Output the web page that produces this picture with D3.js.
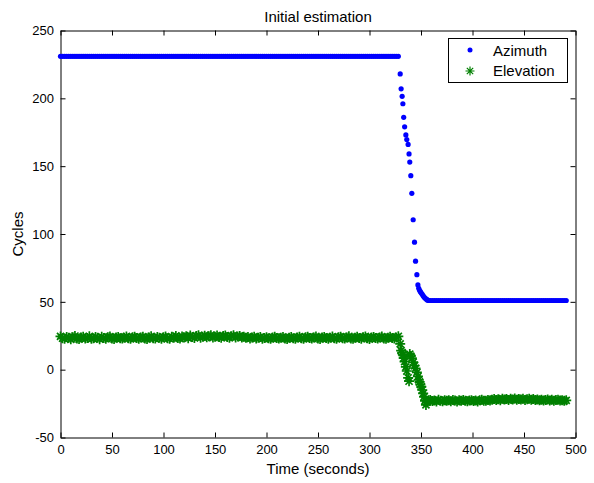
<!DOCTYPE html>
<html>
<head>
<meta charset="utf-8">
<script src="https://cdn.jsdelivr.net/npm/d3@7"></script>
<style>
  html, body { margin: 0; padding: 0; background: #fff; }
  svg { display: block; }
  text { font-family: Arial, "Liberation Sans", Helvetica, sans-serif; fill: #000; }
</style>
</head>
<body>
<svg id="chart" width="594" height="483"></svg>
<script>
// ---------------- data ----------------
const chartTitle = "Initial estimation";
const xLabel = "Time (seconds)";
const yLabel = "Cycles";
const seriesNames = ["Azimuth", "Elevation"];
const xTicks = [0, 50, 100, 150, 200, 250, 300, 350, 400, 450, 500];
const yTicks = [-50, 0, 50, 100, 150, 200, 250];

const timeSeconds = [
  0,2,4,6,8,10,12,14,16,18,
  20,22,24,26,28,30,32,34,36,38,
  40,42,44,46,48,50,52,54,56,58,
  60,62,64,66,68,70,72,74,76,78,
  80,82,84,86,88,90,92,94,96,98,
  100,102,104,106,108,110,112,114,116,118,
  120,122,124,126,128,130,132,134,136,138,
  140,142,144,146,148,150,152,154,156,158,
  160,162,164,166,168,170,172,174,176,178,
  180,182,184,186,188,190,192,194,196,198,
  200,202,204,206,208,210,212,214,216,218,
  220,222,224,226,228,230,232,234,236,238,
  240,242,244,246,248,250,252,254,256,258,
  260,262,264,266,268,270,272,274,276,278,
  280,282,284,286,288,290,292,294,296,298,
  300,302,304,306,308,310,312,314,316,318,
  320,322,324,326,328,
  329.8,330.7,331.7,332.4,333.2,334.1,335.3,336.2,337.5,338.4,
  339.1,340.1,341.1,342.4,343.7,344.7,346.0,347.0,347.8,348.6,
  349.4,350.3,351.2,352.1,353.0,353.9,354.8,355.7,356.6,357.5,
  359,361,363,365,367,369,371,373,375,377,
  379,381,383,385,387,389,391,393,395,397,
  399,401,403,405,407,409,411,413,415,417,
  419,421,423,425,427,429,431,433,435,437,
  439,441,443,445,447,449,451,453,455,457,
  459,461,463,465,467,469,471,473,475,477,
  479,481,483,485,487,489,491
];

const azimuthCycles = [
  231,231,231,231,231,231,231,231,231,231,
  231,231,231,231,231,231,231,231,231,231,
  231,231,231,231,231,231,231,231,231,231,
  231,231,231,231,231,231,231,231,231,231,
  231,231,231,231,231,231,231,231,231,231,
  231,231,231,231,231,231,231,231,231,231,
  231,231,231,231,231,231,231,231,231,231,
  231,231,231,231,231,231,231,231,231,231,
  231,231,231,231,231,231,231,231,231,231,
  231,231,231,231,231,231,231,231,231,231,
  231,231,231,231,231,231,231,231,231,231,
  231,231,231,231,231,231,231,231,231,231,
  231,231,231,231,231,231,231,231,231,231,
  231,231,231,231,231,231,231,231,231,231,
  231,231,231,231,231,231,231,231,231,231,
  231,231,231,231,231,231,231,231,231,231,
  231,231,231,231,231,
  218,207,201.5,196,186,179,173,169.6,166,159,
  153,143,130,110.5,94,80,70,62.5,60,58.5,
  57.5,56.5,55.5,54.5,53.5,52.8,52.2,51.6,51.2,51,
  51,51,51,51,51,51,51,51,51,51,
  51,51,51,51,51,51,51,51,51,51,
  51,51,51,51,51,51,51,51,51,51,
  51,51,51,51,51,51,51,51,51,51,
  51,51,51,51,51,51,51,51,51,51,
  51,51,51,51,51,51,51,51,51,51,
  51,51,51,51,51,51,51
];

const elevationCycles = [
  24.5,23.2,22.8,24.1,23.6,22.4,23.9,24.8,23.0,22.6,
  23.7,24.3,22.9,23.4,24.6,22.7,23.1,24.0,23.5,22.5,
  24.2,23.3,22.8,23.9,24.4,23.0,22.6,23.8,24.1,23.2,
  22.9,23.6,24.5,23.1,22.7,23.9,24.2,23.4,22.8,23.7,
  24.3,23.0,22.6,23.8,24.6,23.2,22.9,24.0,23.5,22.7,
  23.9,24.4,23.1,22.8,24.2,23.6,24.9,23.3,22.9,24.5,
  23.8,24.7,23.2,25.1,24.0,23.4,24.8,25.3,23.6,24.2,
  25.0,23.9,24.6,25.4,23.7,24.3,25.2,24.1,23.5,24.8,
  25.1,24.0,23.6,24.7,25.3,23.8,24.4,24.9,23.7,24.2,
  23.5,24.1,22.9,23.7,24.3,23.0,23.6,24.0,22.8,23.4,
  23.9,23.1,22.7,23.8,24.2,23.3,22.9,23.6,24.1,23.0,
  22.6,23.5,24.0,23.2,22.8,23.7,24.3,23.1,22.7,23.9,
  24.2,23.4,22.9,23.8,24.5,23.0,22.6,23.7,24.1,23.3,
  22.8,23.6,24.4,23.1,22.7,23.9,24.3,23.2,22.9,23.8,
  24.6,23.0,22.7,23.5,24.2,23.4,22.8,23.9,24.5,23.1,
  22.6,23.7,24.1,23.3,22.9,23.8,24.4,23.0,22.7,23.6,
  24.2,23.4,23.0,23.8,24.6,
  19,14,12.5,11,8.5,6,2,-1,-6,-8.5,
  11.5,10,8.5,5.5,3,1,-2,-5,-7.5,-9,
  -11,-12.5,-15,-17.5,-20,-23,-26,-24,-23,-22.5,
  -22.4,-23.1,-22.7,-23.4,-22.2,-22.9,-23.3,-22.5,-23.0,-22.6,
  -23.2,-22.4,-22.8,-23.5,-22.6,-23.0,-22.3,-22.9,-23.3,-22.7,
  -22.5,-23.1,-22.8,-23.4,-22.6,-22.2,-22.9,-23.0,-22.4,-22.7,
  -22.1,-21.6,-22.3,-21.8,-22.5,-21.4,-22.0,-21.7,-22.4,-21.5,
  -21.9,-21.3,-22.2,-21.6,-22.0,-21.4,-22.3,-21.8,-21.5,-22.1,
  -21.7,-22.4,-21.9,-22.6,-22.1,-22.8,-22.3,-22.0,-22.7,-22.2,
  -22.9,-22.4,-22.1,-22.8,-22.5,-23.0,-22.6
];

// ---------------- drawing ----------------
const svg = d3.select("#chart");
const plotLeft = 60.5, plotRight = 575.5, plotTop = 30.5, plotBottom = 437.5;

const x = d3.scaleLinear().domain([0, 500]).range([plotLeft, plotRight]);
const y = d3.scaleLinear().domain([-50, 250]).range([plotBottom, plotTop]);

const blue = "#0000ff";
const green = "#008000";
const starPath = (r) => {
  const d = r * 0.7071;
  return `M${-r},0H${r}M0,${-r}V${r}M${-d},${-d}L${d},${d}M${-d},${d}L${d},${-d}`;
};
const plainFormat = d => String(d);

svg.append("rect").attr("x", 0).attr("y", 0).attr("width", 594).attr("height", 483).attr("fill", "#fff");

function styleAxis(g, showLabels) {
  g.select(".domain").attr("stroke", "#000").attr("stroke-width", 1);
  g.selectAll(".tick line").attr("stroke", "#000").attr("stroke-width", 1);
  g.selectAll(".tick text").attr("font-size", 13).attr("font-family", "Arial, 'Liberation Sans', sans-serif").attr("fill", "#000");
  if (!showLabels) g.selectAll(".tick text").remove();
}

svg.append("g").attr("transform", `translate(0,${plotBottom})`)
  .call(d3.axisBottom(x).tickValues(xTicks).tickFormat(plainFormat).tickSizeInner(-5).tickSizeOuter(0).tickPadding(7.3))
  .call(g => styleAxis(g, true));
svg.append("g").attr("transform", `translate(0,${plotTop})`)
  .call(d3.axisTop(x).tickValues(xTicks).tickSizeInner(-5).tickSizeOuter(0).tickFormat(""))
  .call(g => styleAxis(g, false));
svg.append("g").attr("transform", `translate(${plotLeft},0)`)
  .call(d3.axisLeft(y).tickValues(yTicks).tickFormat(plainFormat).tickSizeInner(-5).tickSizeOuter(0).tickPadding(6.5))
  .call(g => styleAxis(g, true));
svg.append("g").attr("transform", `translate(${plotRight},0)`)
  .call(d3.axisRight(y).tickValues(yTicks).tickSizeInner(-5).tickSizeOuter(0).tickFormat(""))
  .call(g => styleAxis(g, false));

const points = timeSeconds.map((t, i) => ({ t, az: azimuthCycles[i], el: elevationCycles[i] }));

// Azimuth dots
svg.append("g").selectAll("circle").data(points).join("circle")
  .attr("cx", d => x(d.t)).attr("cy", d => y(d.az)).attr("r", 2.6).attr("fill", blue);

// Elevation stars
svg.append("g").selectAll("path").data(points).join("path")
  .attr("transform", d => `translate(${x(d.t)},${y(d.el)})`)
  .attr("d", starPath(5)).attr("stroke", green).attr("stroke-width", 1.7).attr("fill", "none");

// Title and labels
svg.append("text").attr("x", (plotLeft + plotRight) / 2).attr("y", 22).attr("text-anchor", "middle")
  .attr("font-size", 15).text(chartTitle);
svg.append("text").attr("x", (plotLeft + plotRight) / 2).attr("y", 474).attr("text-anchor", "middle")
  .attr("font-size", 15).text(xLabel);
svg.append("text").attr("transform", `translate(23,${(plotTop + plotBottom) / 2}) rotate(-90)`).attr("text-anchor", "middle")
  .attr("font-size", 15).text(yLabel);

// Legend
const legend = svg.append("g");
legend.append("rect").attr("x", 448.5).attr("y", 38.5).attr("width", 119).attr("height", 44)
  .attr("fill", "#fff").attr("stroke", "#000").attr("stroke-width", 1);
legend.append("circle").attr("cx", 470).attr("cy", 50).attr("r", 2.5).attr("fill", blue);
legend.append("path").attr("transform", "translate(470,71)").attr("d", starPath(4.5))
  .attr("stroke", green).attr("stroke-width", 1.2).attr("fill", "none");
legend.append("text").attr("x", 493).attr("y", 56).attr("font-size", 15).text(seriesNames[0]);
legend.append("text").attr("x", 493).attr("y", 75.5).attr("font-size", 15).text(seriesNames[1]);
</script>
</body>
</html>
